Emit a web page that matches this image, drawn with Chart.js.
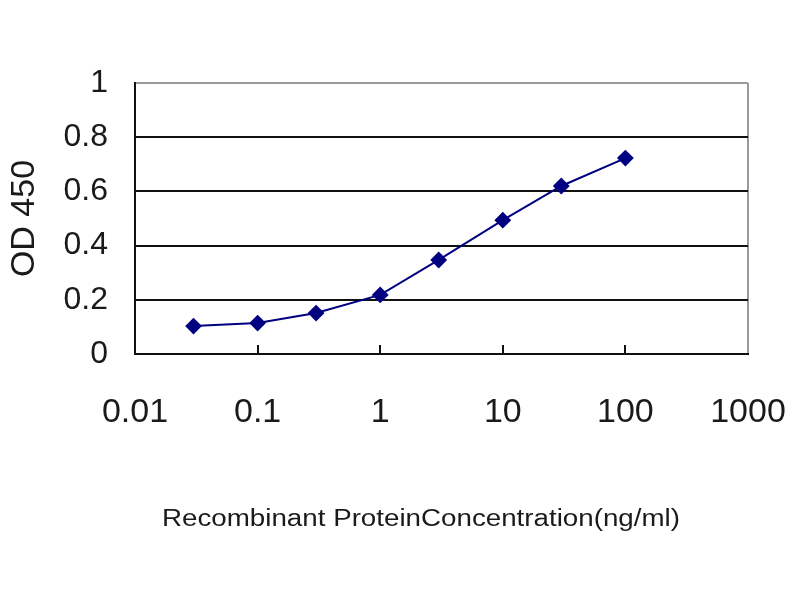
<!DOCTYPE html>
<html>
<head>
<meta charset="utf-8">
<script src="https://cdn.jsdelivr.net/npm/chart.js@4.4.1/dist/chart.umd.min.js"></script>
<style>
  html, body { margin: 0; padding: 0; background: #fff; }
  #wrap { width: 800px; height: 600px; }
</style>
</head>
<body>
<div id="wrap"><canvas id="elisaChart" width="800" height="600"></canvas></div>
<script>
// Concentration (ng/ml) and OD450 readings
const concentrations = [0.03, 0.1, 0.3, 1, 3, 10, 30, 100];
const odValues = [0.103, 0.114, 0.151, 0.218, 0.347, 0.494, 0.62, 0.723];

// Axis ticks
const xTickValues = [0.01, 0.1, 1, 10, 100, 1000];
const xTickLabels = ['0.01', '0.1', '1', '10', '100', '1000'];
const yTickValues = [0, 0.2, 0.4, 0.6, 0.8, 1];
const yTickLabels = ['0', '0.2', '0.4', '0.6', '0.8', '1'];

const xTitle = 'Recombinant ProteinConcentration(ng/ml)';
const yTitle = 'OD 450';

Chart.defaults.font.family = '"Liberation Sans", Arial, sans-serif';
Chart.defaults.color = '#1a1a1a';

// small tick marks pointing up into the plot, plus the x axis title
const extrasPlugin = {
    id: 'extras',
    afterDraw(chart) {
        const ctx = chart.ctx;
        const xScale = chart.scales.x;
        const bottom = chart.chartArea.bottom;
        ctx.save();
        ctx.strokeStyle = '#111';
        ctx.lineWidth = 2;
        xTickValues.slice(1, -1).forEach(v => {
            const px = Math.round(xScale.getPixelForValue(v));
            ctx.beginPath();
            ctx.moveTo(px, bottom);
            ctx.lineTo(px, bottom - 9);
            ctx.stroke();
        });
        // x title: a wide, slightly left-of-centre label in the original
        ctx.fillStyle = '#1a1a1a';
        ctx.font = '23px "Liberation Sans", Arial, sans-serif';
        ctx.textAlign = 'center';
        ctx.textBaseline = 'middle';
        const w = ctx.measureText(xTitle).width;
        ctx.translate(421, 520);
        ctx.scale(518 / w, 1);
        ctx.fillText(xTitle, 0, 0);
        ctx.restore();
    }
};

const ctx = document.getElementById('elisaChart').getContext('2d');
new Chart(ctx, {
    type: 'line',
    data: {
        datasets: [{
            data: concentrations.map((c, i) => ({ x: c, y: odValues[i] })),
            borderColor: '#000080',
            backgroundColor: '#000080',
            borderWidth: 2,
            pointStyle: 'rectRot',
            pointRadius: 7,
            pointHoverRadius: 7,
            tension: 0
        }]
    },
    options: {
        responsive: false,
        animation: false,
        devicePixelRatio: 1,
        layout: { padding: { top: 83, right: 52, left: 0, bottom: 0 } },
        plugins: {
            legend: { display: false },
            tooltip: { enabled: false }
        },
        scales: {
            x: {
                type: 'logarithmic',
                min: 0.01,
                max: 1000,
                afterBuildTicks: scale => {
                    scale.ticks = xTickValues.map(v => ({ value: v }));
                },
                afterFit: scale => {
                    scale.height = 246;
                    scale.paddingLeft = 0;
                    scale.paddingRight = 0;
                },
                ticks: {
                    autoSkip: false,
                    maxRotation: 0,
                    padding: 38,
                    font: { size: 34 },
                    callback: (value) => xTickLabels[xTickValues.indexOf(value)]
                },
                grid: {
                    drawTicks: false,
                    lineWidth: 2,
                    color: c => {
                        if (c.tick && c.tick.value === 1000) return '#9a9a9a';
                        return 'rgba(0,0,0,0)';
                    }
                },
                border: { color: '#111', width: 2 }
            },
            y: {
                min: 0,
                max: 1,
                afterBuildTicks: scale => {
                    scale.ticks = yTickValues.map(v => ({ value: v }));
                },
                afterFit: scale => {
                    scale.width = 135;
                    scale.paddingTop = 0;
                    scale.paddingBottom = 0;
                },
                ticks: {
                    padding: 27,
                    font: { size: 32 },
                    callback: (value) => yTickLabels[yTickValues.indexOf(value)]
                },
                grid: {
                    drawTicks: false,
                    lineWidth: 2,
                    color: c => (c.tick && c.tick.value === 1) ? '#9a9a9a' : '#111'
                },
                border: { color: '#111', width: 2 },
                title: {
                    display: true,
                    text: yTitle,
                    font: { size: 34 },
                    padding: { top: 4, bottom: 0 }
                }
            }
        }
    },
    plugins: [extrasPlugin]
});
</script>
</body>
</html>
